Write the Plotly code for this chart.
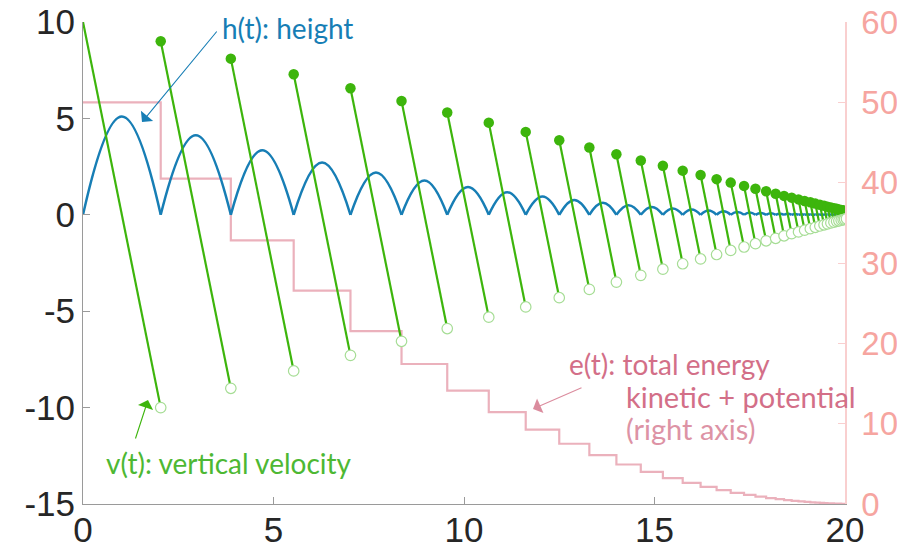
import plotly.graph_objects as go

# ---- data ----
bounce_t = [0, 2.04, 3.88, 5.53, 7.02, 8.36, 9.56, 10.65, 11.62, 12.50, 13.29, 14.00,
            14.64, 15.22, 15.74, 16.21, 16.63, 17.00, 17.35, 17.65, 17.93, 18.18, 18.40,
            18.60, 18.78, 18.94, 19.09, 19.22, 19.34, 19.45, 19.54, 19.63, 19.71, 19.78,
            19.84, 19.90, 19.95, 19.99, 20.04]
launch_v = [10, 9, 8.1, 7.29, 6.56, 5.9, 5.31, 4.78, 4.3, 3.87, 3.49, 3.14, 2.82, 2.54,
            2.29, 2.06, 1.85, 1.67, 1.5, 1.35, 1.22, 1.09, 0.98, 0.89, 0.8, 0.72, 0.65,
            0.58, 0.52, 0.47, 0.42, 0.38, 0.34, 0.31, 0.28, 0.25, 0.23, 0.2]
peak_h = [5.1, 4.13, 3.35, 2.71, 2.2, 1.78, 1.44, 1.17, 0.95, 0.77, 0.62, 0.5, 0.41, 0.33,
          0.27, 0.22, 0.18, 0.14, 0.12, 0.09, 0.08, 0.06, 0.05, 0.04, 0.03, 0.03, 0.02,
          0.02, 0.01, 0.01, 0.01, 0.01, 0.01, 0.0, 0.0, 0.0, 0.0, 0.0]
energy = [50, 40.5, 32.81, 26.57, 21.52, 17.43, 14.12, 11.44, 9.27, 7.5, 6.08, 4.92, 3.99,
          3.23, 2.62, 2.12, 1.72, 1.39, 1.13, 0.91, 0.74, 0.6, 0.48, 0.39, 0.32, 0.26,
          0.21, 0.17, 0.14, 0.11, 0.09, 0.07, 0.06, 0.05, 0.04, 0.03, 0.03, 0.02]

left_ticks = [-15, -10, -5, 0, 5, 10]
left_labels = ["-15", "-10", "-5", "0", "5", "10"]
right_ticks = [0, 10, 20, 30, 40, 50, 60]
right_labels = ["0", "10", "20", "30", "40", "50", "60"]
x_ticks = [0, 5, 10, 15, 20]
x_labels = ["0", "5", "10", "15", "20"]

GREEN = "#3DB50C"
GREEN_LIGHT = "#A6DD95"
BLUE = "#177EB5"
PINK_LINE = "#EBB1BC"
PINK_TEXT = "#D36F88"
PINK_TEXT2 = "#DD93A5"
PINK_AXIS = "#F6A5A0"
PINK_AXLINE = "#F9CFCF"
GRAY = "#9A9A9A"
TXT = "#262626"

n = len(launch_v)

# height arcs
hx, hy = [], []
for i in range(n):
    t0, t1 = bounce_t[i], bounce_t[i + 1]
    hx += [t0, (t0 + t1) / 2, t1, None]
    hy += [0, peak_h[i], 0, None]

# velocity segments
vx, vy = [], []
for i in range(n):
    vx += [bounce_t[i], bounce_t[i + 1], None]
    vy += [launch_v[i], -launch_v[i], None]

fig = go.Figure()

# energy on primary (drawn below)
fig.add_trace(go.Scatter(
    x=bounce_t, y=energy + [energy[-1]], mode="lines", line_shape="hv",
    line=dict(color=PINK_LINE, width=2.2), yaxis="y", hoverinfo="skip"))

fig.add_trace(go.Scatter(
    x=hx, y=hy, mode="lines", line_shape="spline",
    line=dict(color=BLUE, width=2.5, smoothing=1.3), yaxis="y2", connectgaps=False))

fig.add_trace(go.Scatter(
    x=vx, y=vy, mode="lines", line=dict(color=GREEN, width=2.2), yaxis="y2",
    connectgaps=False))

fig.add_trace(go.Scatter(
    x=bounce_t[1:n], y=launch_v[1:n], mode="markers",
    marker=dict(color=GREEN, size=10.5, line=dict(width=0)), yaxis="y2"))

fig.add_trace(go.Scatter(
    x=bounce_t[1:n + 1], y=[-v for v in launch_v], mode="markers",
    marker=dict(color="white", size=10.5, line=dict(color=GREEN_LIGHT, width=1.2)),
    yaxis="y2"))

L, R, T, B = 83, 52, 22, 47
PW, PH = 897 - L - R, 551 - T - B


def px(xp):
    return (xp - L) / PW


def py(yp):
    return (551 - B - yp) / PH


ann = []
fnt = "Lato"
# arrows
for tip, tail, col in [((142, 122), (218, 30), BLUE),
                       ((148, 400), (135, 440), GREEN),
                       ((533, 409), (583, 387), "#DB8C9E")]:
    ann.append(dict(x=px(tip[0]), y=py(tip[1]), xref="paper", yref="paper",
                    ax=tail[0] - tip[0], ay=tail[1] - tip[1], text="", showarrow=True,
                    arrowhead=1, arrowsize=2.4, arrowwidth=1.1, arrowcolor=col))

for txt, xp_, yp_, col, sz in [("h(t): height", 221, 28, BLUE, 28),
                                ("v(t): vertical velocity", 105, 463, "#4DB833", 28),
                                ("e(t): total energy", 568, 364, PINK_TEXT, 28),
                                ("kinetic + potential", 625, 396, PINK_TEXT, 29),
                                ("(right axis)", 625, 428, PINK_TEXT2, 29)]:
    ann.append(dict(x=px(xp_), y=py(yp_), xref="paper", yref="paper", text=txt,
                    showarrow=False, xanchor="left", yanchor="middle", borderpad=0,
                    font=dict(family=fnt, size=sz, color=col)))

TICKSZ = 35
fig.update_layout(
    width=897, height=551,
    margin=dict(l=L, r=R, t=T, b=B, autoexpand=False),
    paper_bgcolor="white", plot_bgcolor="white",
    showlegend=False,
    xaxis=dict(range=[0, 20], tickvals=x_ticks, ticktext=x_labels, ticks="inside",
               ticklen=7, tickcolor=GRAY, showline=True, linecolor=GRAY, linewidth=1,
               showgrid=False, zeroline=False, automargin=False, ticklabelstandoff=-5,
               tickfont=dict(family="Liberation Sans", size=TICKSZ, color=TXT)),
    yaxis=dict(range=[0, 60], tickvals=right_ticks, ticktext=right_labels, side="right",
               ticks="inside", ticklen=7, tickcolor=PINK_AXLINE, showline=True,
               linecolor=PINK_AXLINE, linewidth=1.5, showgrid=False, zeroline=False,
               automargin=False, ticklabelstandoff=8,
               tickfont=dict(family="Liberation Sans", size=33, color=PINK_AXIS)),
    yaxis2=dict(range=[-15, 10], tickvals=left_ticks, ticktext=left_labels, side="left",
                overlaying="y", ticks="inside", ticklen=7, tickcolor=GRAY,
                showline=True, linecolor=GRAY, linewidth=1, showgrid=False,
                zeroline=False, automargin=False,
                tickfont=dict(family="Liberation Sans", size=TICKSZ, color=TXT)),
    annotations=ann,
)

fig.write_html("out.html")
